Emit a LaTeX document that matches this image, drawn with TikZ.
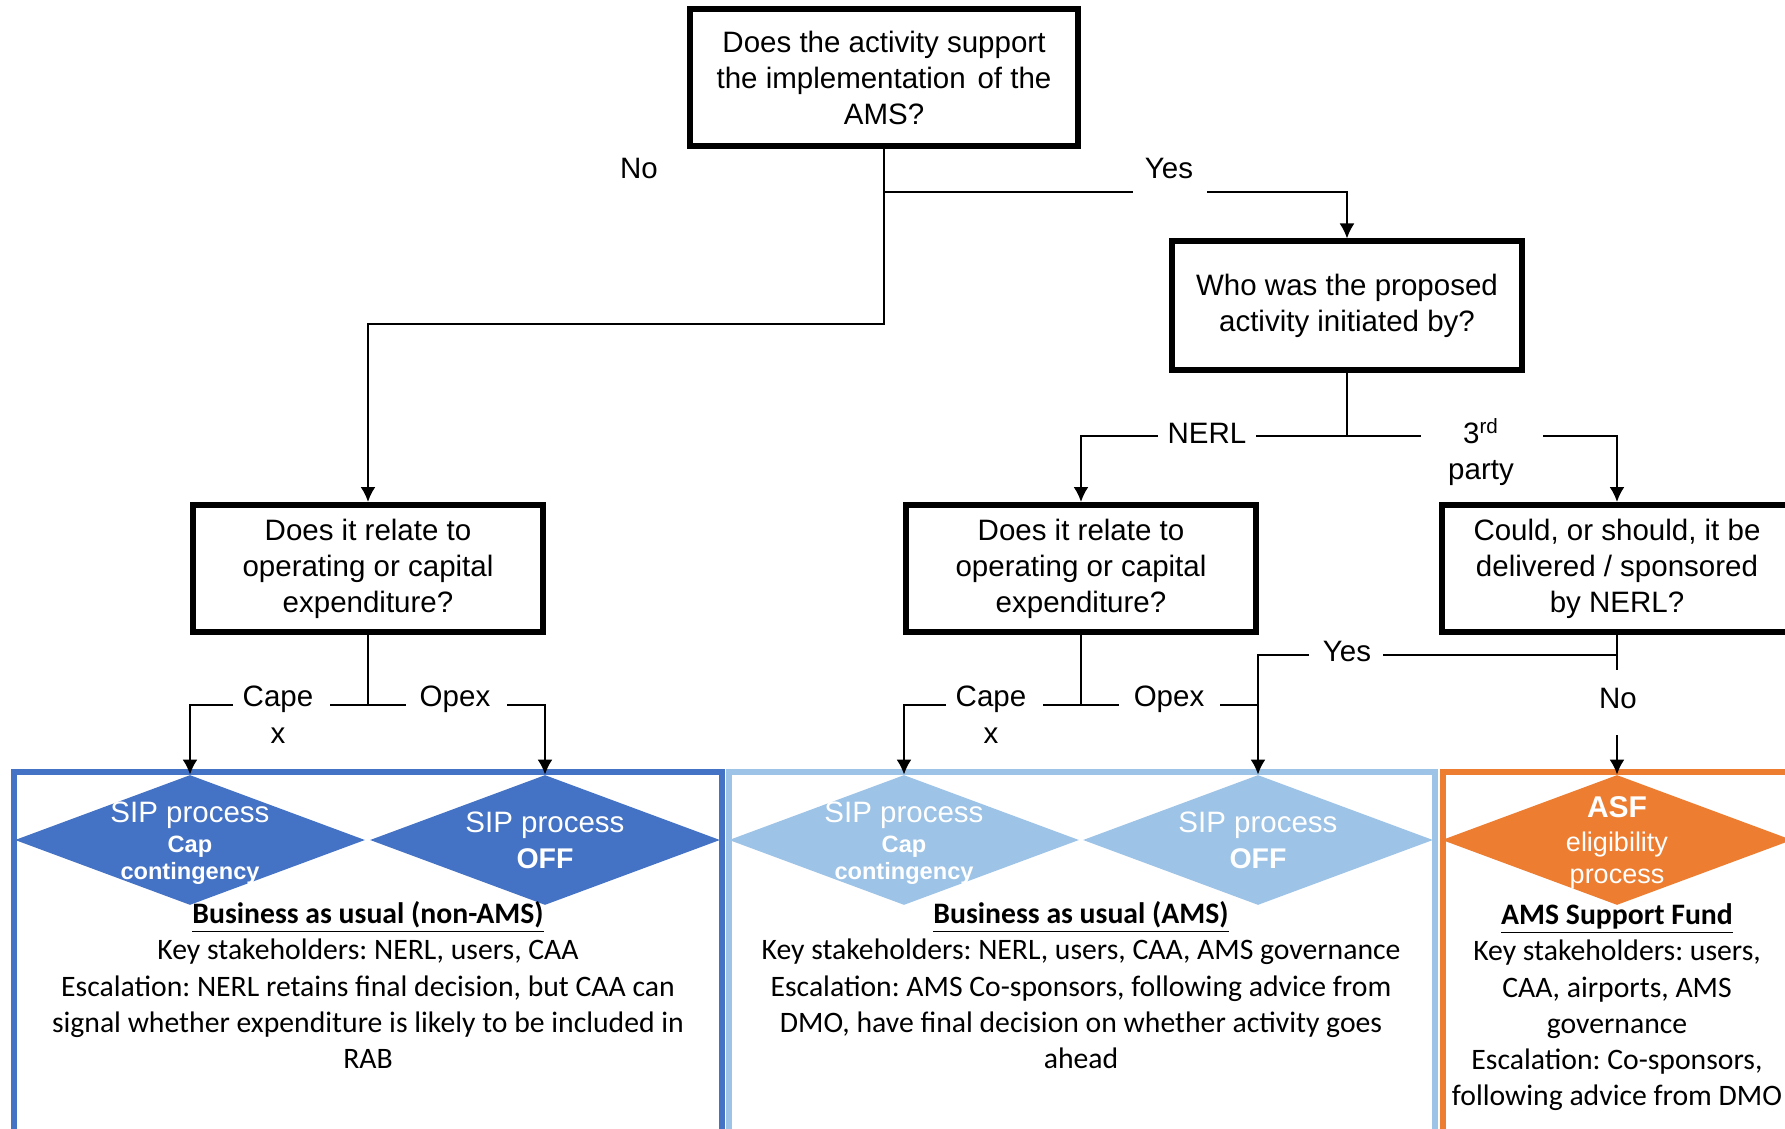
\documentclass[tikz,border=0pt]{standalone}
\usepackage{fontspec}
\setmainfont{Liberation Sans}
\newfontfamily\calibrifont{Carlito}
\usetikzlibrary{arrows.meta,shapes.geometric}
\definecolor{dblue}{HTML}{4472C4}
\definecolor{lblue}{HTML}{9DC3E6}
\definecolor{orng}{HTML}{ED7D31}
\newcommand{\thickul}[1]{\setlength{\fboxrule}{0pt}\underline{#1}}
\begin{document}
\begin{tikzpicture}[x=0.5pt,y=-0.5pt,
  qbox/.style={draw,line width=3pt,align=center,inner sep=0pt,font=\fontsize{14.75}{18}\selectfont},
  lbl/.style={inner sep=0pt,font=\fontsize{14.75}{17.5}\selectfont},
  conn/.style={line width=1.1pt},
  arr/.style={line width=1.1pt,-{Latex[length=7.5pt,width=7.5pt]}},
  dia/.style={diamond,inner sep=0pt,minimum width=175pt,minimum height=65pt},
  dtext/.style={text=white,inner sep=0pt,anchor=base},
  panel/.style={line width=3pt},
  info/.style={align=center,inner sep=0pt,anchor=north,font=\calibrifont\frenchspacing\fontsize{14.85}{18.1}\selectfont}
]
\useasboundingbox (0,0) rectangle (1785,1129);
\clip (0,0) rectangle (1785,1129);

% panels
\draw[panel,draw=dblue] (14,772) rectangle (722,1150);
\draw[panel,draw=lblue] (729,772) rectangle (1435,1150);
\draw[panel,draw=orng] (1443,772) rectangle (1810,1150);

% question boxes
\node[qbox,minimum width=194pt,minimum height=68.5pt] (q1) at (884,77.5)
  {Does the activity support\\the implementation\hspace{0.12em} of the\\AMS?};
\node[qbox,minimum width=175pt,minimum height=64pt] (who) at (1347,305.5)
  {Who was the proposed\\activity initiated by?};
\node[qbox,minimum width=175pt,minimum height=63.5pt] (b1) at (368,568.5)
  {Does it relate to\\operating or capital\\expenditure?};
\node[qbox,minimum width=175pt,minimum height=63.5pt] (b2) at (1081,568.5)
  {Does it relate to\\operating or capital\\expenditure?};
\node[qbox,minimum width=175pt,minimum height=63.5pt] (could) at (1617,568.5)
  {Could, or should, it be\\delivered / sponsored\\by NERL?};

% diamonds
\node[dia,fill=dblue] (dA1) at (190,840) {};
\node[dia,fill=dblue] (dB1) at (545,840) {};
\node[dia,fill=lblue] (dA2) at (904,840) {};
\node[dia,fill=lblue] (dB2) at (1258,840) {};
\node[dia,fill=orng] (dC) at (1617,840) {};

% diamond texts
\node[dtext,font=\fontsize{14.75}{17.5}\selectfont] (tA1a) at (190,822) {SIP process};
\node[dtext,font=\bfseries\fontsize{11.8}{14}\selectfont] (tA1b) at (190,852) {Cap};
\node[dtext,font=\bfseries\fontsize{11.8}{14}\selectfont] (tA1c) at (190,879) {contingency};
\node[dtext,font=\fontsize{14.75}{17.5}\selectfont] (tB1a) at (545,832) {SIP process};
\node[dtext,font=\bfseries\fontsize{14.25}{17}\selectfont] (tB1b) at (545,868) {OFF};
\node[dtext,font=\fontsize{14.75}{17.5}\selectfont] (tA2a) at (904,822) {SIP process};
\node[dtext,font=\bfseries\fontsize{11.8}{14}\selectfont] (tA2b) at (904,852) {Cap};
\node[dtext,font=\bfseries\fontsize{11.8}{14}\selectfont] (tA2c) at (904,879) {contingency};
\node[dtext,font=\fontsize{14.75}{17.5}\selectfont] (tB2a) at (1258,832) {SIP process};
\node[dtext,font=\bfseries\fontsize{14.25}{17}\selectfont] (tB2b) at (1258,868) {OFF};
\node[dtext,font=\bfseries\fontsize{15}{18}\selectfont] (tCa) at (1617,817) {ASF};
\node[dtext,font=\fontsize{13.5}{16}\selectfont] (tCb) at (1617,851) {eligibility};
\node[dtext,font=\fontsize{13.5}{16}\selectfont] (tCc) at (1617,883) {process};

% info texts
\node[info] (i1) at (368,898) {\strut\underline{\textbf{Business as usual (non-AMS)}}\\
  Key stakeholders: NERL, users, CAA\\
  Escalation: NERL retains final decision, but CAA can\\
  signal whether expenditure is likely to be included in\\
  RAB};
\node[info] (i2) at (1081,898) {\strut\underline{\textbf{Business as usual (AMS)}}\\
  Key stakeholders: NERL, users, CAA, AMS governance\\
  Escalation: AMS Co-sponsors, following advice from\\
  DMO, have final decision on whether activity goes\\
  ahead};
\node[info] (i3) at (1617,899) {\strut\underline{\textbf{AMS Support Fund}}\\
  Key stakeholders: users,\\
  CAA, airports, AMS\\
  governance\\
  Escalation: Co-sponsors,\\
  following advice from DMO};

% top question connectors
\coordinate (noTurn) at (884,324);
\draw[arr] (q1.south) -- (noTurn) -| (b1.north);
\coordinate (yesStart) at (884,192);
\coordinate (yesGapL) at (1133,192);
\coordinate (yesGapR) at (1207,192);
\draw[conn] (yesStart) -- (yesGapL);
\draw[arr] (yesGapR) -| (who.north);
\node[lbl] (lno1) at (639,168) {No};
\node[lbl] (lyes1) at (1169,168) {Yes};

% who connectors
\coordinate (nerlJ) at (1347,436);
\coordinate (nerlR) at (1256,436);
\coordinate (nerlL) at (1158,436);
\draw[conn] (who.south) -- (nerlJ) -- (nerlR);
\draw[arr] (nerlL) -| (b2.north);
\node[lbl] (lnerl) at (1207,433) {NERL};
\coordinate (trdL) at (1421,436);
\coordinate (trdR) at (1543,436);
\draw[conn] (nerlJ) -- (trdL);
\draw[arr] (trdR) -| (could.north);
\node[lbl,anchor=base] (l3rd) at (1481,443.5) {3\textsuperscript{rd}};
\node[lbl,anchor=base] (lparty) at (1481,479) {party};

% box 1 connectors
\coordinate (b1J) at (368,705);
\coordinate (b1mL) at (330,705);
\coordinate (b1mR) at (406,705);
\coordinate (b1L) at (233,705);
\coordinate (b1R) at (507,705);
\draw[conn] (b1.south) -- (b1J);
\draw[conn] (b1mL) -- (b1mR);
\draw[arr] (b1L) -| (dA1.north);
\draw[arr] (b1R) -| (dB1.north);
\node[lbl] (lcape1) at (278,699) {Cape};
\node[lbl] (lx1) at (278,736) {x};
\node[lbl] (lopex1) at (455,699) {Opex};

% box 2 connectors
\coordinate (b2J) at (1081,705);
\coordinate (b2mL) at (1043,705);
\coordinate (b2mR) at (1119,705);
\coordinate (b2L) at (946,705);
\coordinate (b2R) at (1220,705);
\coordinate (b2Join) at (1258,705);
\draw[conn] (b2.south) -- (b2J);
\draw[conn] (b2mL) -- (b2mR);
\draw[arr] (b2L) -| (dA2.north);
\draw[conn] (b2R) -- (b2Join);
\node[lbl] (lcape2) at (991,699) {Cape};
\node[lbl] (lx2) at (991,736) {x};
\node[lbl] (lopex2) at (1169,699) {Opex};

% could connectors
\coordinate (cJ) at (1617,655);
\coordinate (cStub) at (1617,670);
\coordinate (cYesR) at (1383,655);
\coordinate (cYesL) at (1309,655);
\coordinate (cNoTop) at (1617,735);
\draw[conn] (could.south) -- (cStub);
\draw[conn] (cJ) -- (cYesR);
\draw[arr] (cYesL) -| (dB2.north);
\draw[arr] (cNoTop) -- (dC.north);
\node[lbl] (lyes2) at (1347,651) {Yes};
\node[lbl] (lno2) at (1618,698) {No};
\end{tikzpicture}
\end{document}
